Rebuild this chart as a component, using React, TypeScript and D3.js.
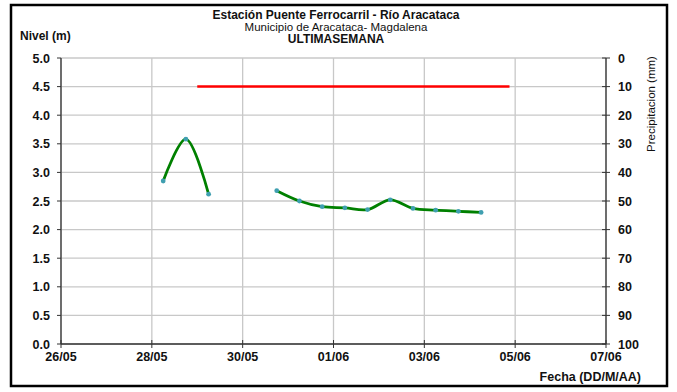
import React from "react";
import * as d3 from "d3";

const levelDates: string[] = [
  "2024-05-28T06:00", "2024-05-28T18:00", "2024-05-29T06:00",
  "2024-05-29T18:00", "2024-05-30T06:00",
  "2024-05-30T18:00", "2024-05-31T06:00", "2024-05-31T18:00", "2024-06-01T06:00",
  "2024-06-01T18:00", "2024-06-02T06:00", "2024-06-02T18:00", "2024-06-03T06:00",
  "2024-06-03T18:00", "2024-06-04T06:00",
];
const levelValues: (number | null)[] = [
  2.85, 3.58, 2.62,
  null, null,
  2.68, 2.5, 2.4, 2.38, 2.35, 2.52, 2.37, 2.34, 2.32, 2.3,
];
const rainDates: string[] = ["2024-05-29T00:00", "2024-06-04T21:00"];
const rainValues: number[] = [10, 10];
const xTickDates: string[] = ["2024-05-26", "2024-05-28", "2024-05-30", "2024-06-01", "2024-06-03", "2024-06-05", "2024-06-07"];
const xTickLabels: string[] = ["26/05", "28/05", "30/05", "01/06", "03/06", "05/06", "07/06"];
const yTicks: number[] = [0, 0.5, 1, 1.5, 2, 2.5, 3, 3.5, 4, 4.5, 5];
const y2Ticks: number[] = [0, 10, 20, 30, 40, 50, 60, 70, 80, 90, 100];

const W = 677, H = 392;
const L = 61, R = 606, T = 58, B = 344;
const FONT = "'Liberation Sans', Arial, sans-serif";

export default function App() {
  const parse = (s: string) => new Date(s);
  const x = d3.scaleTime()
    .domain([parse("2024-05-26T00:00"), parse("2024-06-07T00:00")])
    .range([L, R]);
  const y = d3.scaleLinear().domain([0, 5]).range([B, T]);
  const y2 = d3.scaleLinear().domain([0, 100]).range([T, B]);

  const pts = levelDates.map((d, i) => ({ d: parse(d), v: levelValues[i] }));
  const line = d3.line<{ d: Date; v: number | null }>()
    .defined((p) => p.v !== null)
    .x((p) => x(p.d))
    .y((p) => y(p.v as number))
    .curve(d3.curveCatmullRom.alpha(0.5));

  const rainPts = rainDates.map((d, i) => ({ d: parse(d), v: rainValues[i] }));
  const rainLine = d3.line<{ d: Date; v: number }>()
    .x((p) => x(p.d))
    .y((p) => y2(p.v));

  const grid = "#c8c8c8";
  const axis = "#333";
  const fs = 12.5;

  return (
    <svg width={W} height={H} style={{ position: "absolute", left: 0, top: 0 }} fontFamily={FONT}>
      <rect x={0} y={0} width={W} height={H} fill="#fff" />
      <rect x={11} y={5} width={656} height={381} fill="none" stroke="#000" strokeWidth={2.5} />
      {/* gridlines */}
      {yTicks.map((t) => (
        <line key={"gy" + t} x1={L} x2={R} y1={y(t)} y2={y(t)} stroke={grid} strokeWidth={1.3} />
      ))}
      {xTickDates.map((t) => (
        <line key={"gx" + t} x1={x(parse(t + "T00:00"))} x2={x(parse(t + "T00:00"))} y1={T} y2={B} stroke={grid} strokeWidth={1.3} />
      ))}
      {/* axes */}
      <line x1={L} x2={L} y1={T} y2={B} stroke={axis} strokeWidth={1.3} />
      <line x1={R} x2={R} y1={T} y2={B} stroke={axis} strokeWidth={1.3} />
      <line x1={L} x2={R} y1={B} y2={B} stroke={axis} strokeWidth={1.3} />
      {yTicks.map((t) => (
        <g key={"ty" + t}>
          <line x1={L - 4} x2={L} y1={y(t)} y2={y(t)} stroke={axis} />
          <text x={L - 11} y={y(t) + 4.5} textAnchor="end" fontSize={fs} fontWeight="bold" fill="#111">{t.toFixed(1)}</text>
        </g>
      ))}
      {y2Ticks.map((t) => (
        <g key={"ty2" + t}>
          <line x1={R - 4} x2={R + 4} y1={y2(t)} y2={y2(t)} stroke={axis} />
          <text x={R + 12} y={y2(t) + 4.5} textAnchor="start" fontSize={fs} fontWeight="bold" fill="#111">{t}</text>
        </g>
      ))}
      {xTickDates.map((t, i) => {
        const xx = x(parse(t + "T00:00"));
        return (
          <g key={"tx" + t}>
            <line x1={xx} x2={xx} y1={B - 4} y2={B + 4} stroke={axis} />
            <text x={xx} y={B + 17} textAnchor="middle" fontSize={fs} fontWeight="bold" fill="#111">{xTickLabels[i]}</text>
          </g>
        );
      })}
      {/* series */}
      <path d={rainLine(rainPts) || ""} fill="none" stroke="#ff0000" strokeWidth={2.5} />
      <path d={line(pts) || ""} fill="none" stroke="#008000" strokeWidth={2.8} />
      {pts.filter((p) => p.v !== null).map((p, i) => (
        <circle key={"c" + i} cx={x(p.d)} cy={y(p.v as number)} r={2.4} fill="#3f9fb0" />
      ))}
      {/* titles */}
      <text x={336} y={19} textAnchor="middle" fontSize={12} fontWeight="bold" fill="#111">Estación Puente Ferrocarril - Río Aracataca</text>
      <text x={336} y={31} textAnchor="middle" fontSize={11.5} fill="#111">Municipio de Aracataca- Magdalena</text>
      <text x={336} y={43} textAnchor="middle" fontSize={12} fontWeight="bold" fill="#111">ULTIMASEMANA</text>
      <text x={20} y={40} textAnchor="start" fontSize={12} fontWeight="bold" fill="#111">Nivel (m)</text>
      <text transform={`translate(655,104) rotate(-90)`} textAnchor="middle" fontSize={11.5} fill="#111">Precipitacion (mm)</text>
      <text x={641} y={381} textAnchor="end" fontSize={12.5} fontWeight="bold" fill="#111">Fecha (DD/M/AA)</text>
    </svg>
  );
}
